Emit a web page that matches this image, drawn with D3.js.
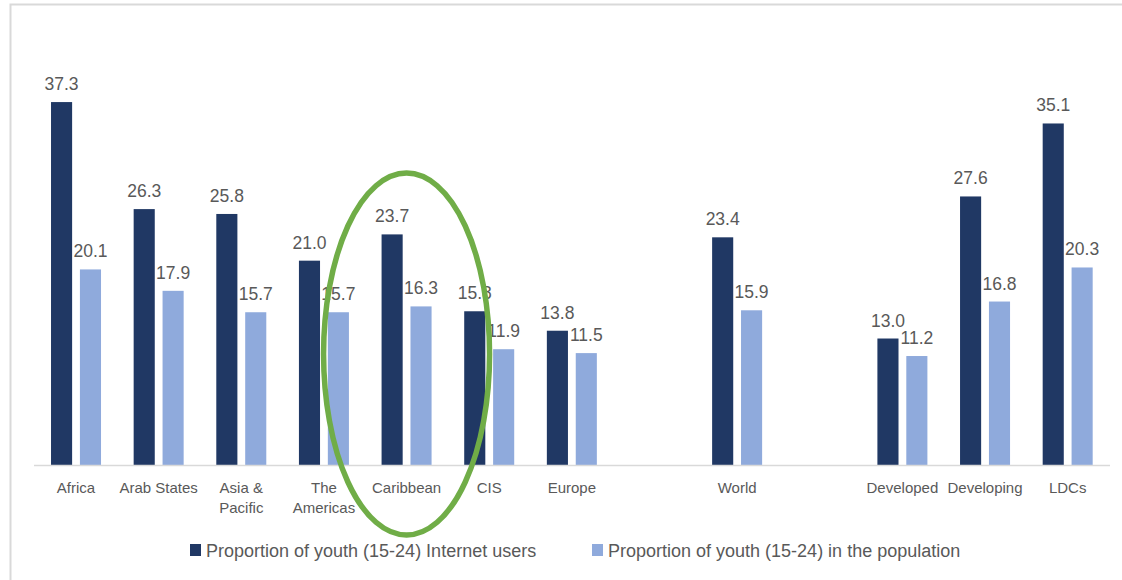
<!DOCTYPE html>
<html>
<head>
<meta charset="utf-8">
<script src="https://cdn.jsdelivr.net/npm/d3@7"></script>
<style>
  body { margin: 0; background: #fff; }
  text { font-family: "Liberation Sans", Arial, sans-serif; fill: #595959; }
</style>
</head>
<body>
<div id="chart"></div>
<script>
// categories ("" = empty slot between groups)
var categories = ["Africa", "Arab States", "Asia & Pacific", "The Americas", "Caribbean", "CIS", "Europe", "", "World", "", "Developed", "Developing", "LDCs"];
var internetUsers = [37.3, 26.3, 25.8, 21.0, 23.7, 15.8, 13.8, null, 23.4, null, 13.0, 27.6, 35.1];
var population = [20.1, 17.9, 15.7, 15.7, 16.3, 11.9, 11.5, null, 15.9, null, 11.2, 16.8, 20.3];
var seriesNames = ["Proportion of youth (15-24) Internet users", "Proportion of youth (15-24) in the population"];
var colors = ["#203864", "#8FAADC"];

var width = 1122, height = 580;
var baseY = 465;

var svg = d3.select("#chart").append("svg")
    .attr("width", width)
    .attr("height", height);

// frame
svg.append("path")
    .attr("d", "M10.5," + height + " V4.5 H" + width)
    .attr("fill", "none")
    .attr("stroke", "#D9D9D9")
    .attr("stroke-width", 2);

var x = d3.scaleBand()
    .domain(d3.range(categories.length))
    .range([34.7, 1109]);

var inner = d3.scaleBand()
    .domain([0, 1])
    .range([x.bandwidth() / 2 - 25, x.bandwidth() / 2 + 25])
    .paddingInner(0.27);

var y = d3.scaleLinear()
    .domain([0, 40])
    .range([baseY, baseY - 40 * 9.73]);

var rows = categories.map(function (c, i) {
  return { i: i, name: c, vals: [internetUsers[i], population[i]] };
});

var groups = svg.selectAll("g.cat")
    .data(rows)
    .enter().append("g")
    .attr("class", "cat")
    .attr("transform", function (d) { return "translate(" + x(d.i) + ",0)"; });

groups.selectAll("rect")
    .data(function (d) { return d.vals.map(function (v, k) { return { v: v, k: k }; }).filter(function (e) { return e.v != null; }); })
    .enter().append("rect")
    .attr("x", function (e) { return inner(e.k); })
    .attr("width", inner.bandwidth())
    .attr("y", function (e) { return y(e.v); })
    .attr("height", function (e) { return baseY - y(e.v); })
    .attr("fill", function (e) { return colors[e.k]; });

// axis line
svg.append("line")
    .attr("x1", 34).attr("x2", 1110)
    .attr("y1", baseY + 0.5).attr("y2", baseY + 0.5)
    .attr("stroke", "#D9D9D9")
    .attr("stroke-width", 1.5);

// value labels
groups.selectAll("text.val")
    .data(function (d) { return d.vals.map(function (v, k) { return { v: v, k: k }; }).filter(function (e) { return e.v != null; }); })
    .enter().append("text")
    .attr("class", "val")
    .attr("x", function (e) { return inner(e.k) + inner.bandwidth() / 2; })
    .attr("y", function (e) { return y(e.v) - 12; })
    .attr("text-anchor", "middle")
    .style("font-size", "17.5px")
    .text(function (e) { return e.v.toFixed(1); });

// category labels
var wrap = { "Asia & Pacific": ["Asia &", "Pacific"], "The Americas": ["The", "Americas"] };
groups.each(function (d) {
  var lines = wrap[d.name] || [d.name];
  var t = d3.select(this).append("text")
      .attr("text-anchor", "middle")
      .style("font-size", "15px");
  lines.forEach(function (l, j) {
    t.append("tspan")
      .attr("x", x.bandwidth() / 2)
      .attr("y", 493 + j * 20)
      .text(l);
  });
});

// ellipse round Caribbean
svg.append("ellipse")
    .attr("cx", x(4) + x.bandwidth() / 2)
    .attr("cy", 354)
    .attr("rx", 83)
    .attr("ry", 181)
    .attr("fill", "none")
    .attr("stroke", "#70AD47")
    .attr("stroke-width", 5.5);

// legend
var legendX = [190, 592];
var legend = svg.selectAll("g.legend")
    .data(seriesNames)
    .enter().append("g")
    .attr("class", "legend")
    .attr("transform", function (d, i) { return "translate(" + legendX[i] + ",544)"; });
legend.append("rect")
    .attr("width", 11).attr("height", 12)
    .attr("fill", function (d, i) { return colors[i]; });
legend.append("text")
    .attr("x", 16).attr("y", 12.5)
    .style("font-size", "18px")
    .text(function (d) { return d; });
</script>
</body>
</html>
